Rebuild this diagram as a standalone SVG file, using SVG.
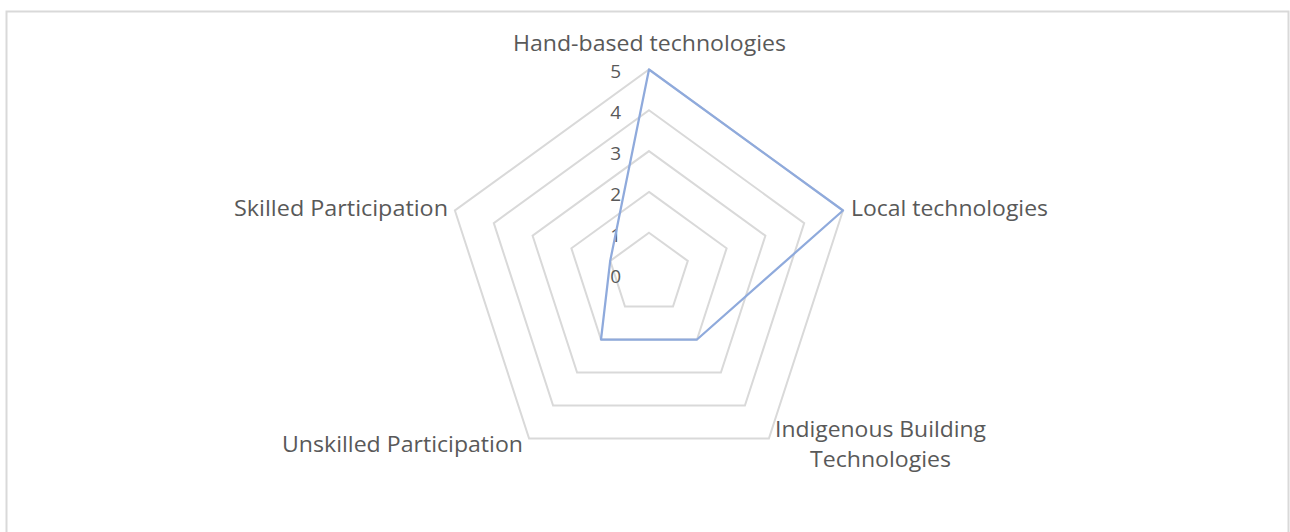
<svg xmlns="http://www.w3.org/2000/svg" width="1290" height="532" viewBox="0 0 1290 532">
<style>
.grid{fill:none;stroke:#d9d9d9;stroke-width:2}
.lbl{font-family:"Open Sans","Liberation Sans",sans-serif;font-size:21px;fill:#595959}
.num{font-family:"Open Sans","Liberation Sans",sans-serif;font-size:19px;fill:#595959;text-anchor:end}
.series{fill:none;stroke:#8faadc;stroke-width:2.25;stroke-linejoin:round}
</style>
<rect x="0" y="0" width="1290" height="532" fill="#ffffff"/>
<rect x="6.5" y="11.5" width="1282" height="540" fill="#ffffff" stroke="#d9d9d9" stroke-width="2"/>
<g id="gridlines">
<polygon class="grid" points="649,232.7 687.8,260.9 673,306.5 625,306.5 610.2,260.9"/>
<polygon class="grid" points="649,191.9 726.6,248.3 697,339.5 601,339.5 571.4,248.3"/>
<polygon class="grid" points="649,151.1 765.4,235.7 720.9,372.5 577.1,372.5 532.6,235.7"/>
<polygon class="grid" points="649,110.3 804.2,223.1 744.9,405.5 553.1,405.5 493.8,223.1"/>
<polygon class="grid" points="649,69.5 843,210.5 768.9,438.5 529.1,438.5 454.9,210.5"/>
</g>
<g id="axis-values">
<text class="num" x="621" y="78">5</text>
<text class="num" x="621" y="119">4</text>
<text class="num" x="621" y="160">3</text>
<text class="num" x="621" y="201">2</text>
<text class="num" x="621" y="242">1</text>
<text class="num" x="621" y="283">0</text>
</g>
<g id="connectors">
<polygon class="series" points="649,69.5 843,210.5 697,339.5 601,339.5 610.2,260.9"/>
</g>
<g id="node-hand">
<text class="lbl" x="513" y="51" textLength="273" lengthAdjust="spacingAndGlyphs">Hand-based technologies</text>
</g>
<g id="node-local">
<text class="lbl" x="851" y="216" textLength="197" lengthAdjust="spacingAndGlyphs">Local technologies</text>
</g>
<g id="node-indigenous">
<text class="lbl" x="775" y="437" textLength="211" lengthAdjust="spacingAndGlyphs">Indigenous Building</text>
<text class="lbl" x="810" y="467" textLength="141" lengthAdjust="spacingAndGlyphs">Technologies</text>
</g>
<g id="node-unskilled">
<text class="lbl" x="282" y="452" textLength="241" lengthAdjust="spacingAndGlyphs">Unskilled Participation</text>
</g>
<g id="node-skilled">
<text class="lbl" x="234" y="216" textLength="214" lengthAdjust="spacingAndGlyphs">Skilled Participation</text>
</g>
</svg>
